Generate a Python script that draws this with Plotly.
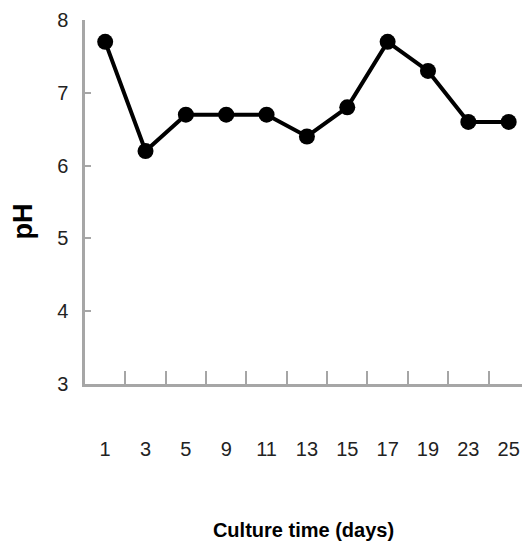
import plotly.graph_objects as go

# Culture time (days) and measured pH
days = ["1", "3", "5", "9", "11", "13", "15", "17", "19", "23", "25"]
ph = [7.7, 6.2, 6.7, 6.7, 6.7, 6.4, 6.8, 7.7, 7.3, 6.6, 6.6]
y_ticks = [3, 4, 5, 6, 7, 8]

font_family = "Liberation Sans, Arial, sans-serif"
axis_grey = "#a6a6a6"

fig = go.Figure(
    go.Scatter(
        x=days,
        y=ph,
        mode="lines+markers",
        line=dict(color="black", width=4),
        marker=dict(symbol="circle", size=16, color="black"),
        showlegend=False,
    )
)

fig.update_layout(
    width=522,
    height=549,
    margin=dict(l=85, r=0, t=20, b=165),
    plot_bgcolor="white",
    paper_bgcolor="white",
    font=dict(family=font_family, color="#222"),
    annotations=[
        dict(
            text="<b>pH</b>",
            textangle=-90,
            xref="paper",
            yref="paper",
            x=-0.142,
            y=0.446,
            xanchor="center",
            yanchor="middle",
            showarrow=False,
            font=dict(family=font_family, size=27, color="black"),
        )
    ],
)

fig.update_xaxes(
    type="category",
    range=[-0.5, 10.33],
    tickson="boundaries",
    ticks="inside",
    ticklen=13,
    tickwidth=2,
    tickcolor=axis_grey,
    showline=True,
    linecolor=axis_grey,
    linewidth=2.5,
    showgrid=False,
    zeroline=False,
    tickfont=dict(family=font_family, size=20, color="#222"),
    ticklabelstandoff=45,
    title=dict(
        text="<b>Culture time (days)</b>",
        font=dict(family=font_family, size=20, color="black"),
        standoff=65,
    ),
)

fig.update_yaxes(
    range=[3, 8],
    tickvals=y_ticks,
    ticks="inside",
    ticklen=6,
    tickwidth=2,
    tickcolor=axis_grey,
    showline=True,
    linecolor=axis_grey,
    linewidth=2.5,
    showgrid=False,
    zeroline=False,
    tickfont=dict(family=font_family, size=20, color="#222"),
    ticklabelstandoff=10,
)

fig.write_html("out.html")
